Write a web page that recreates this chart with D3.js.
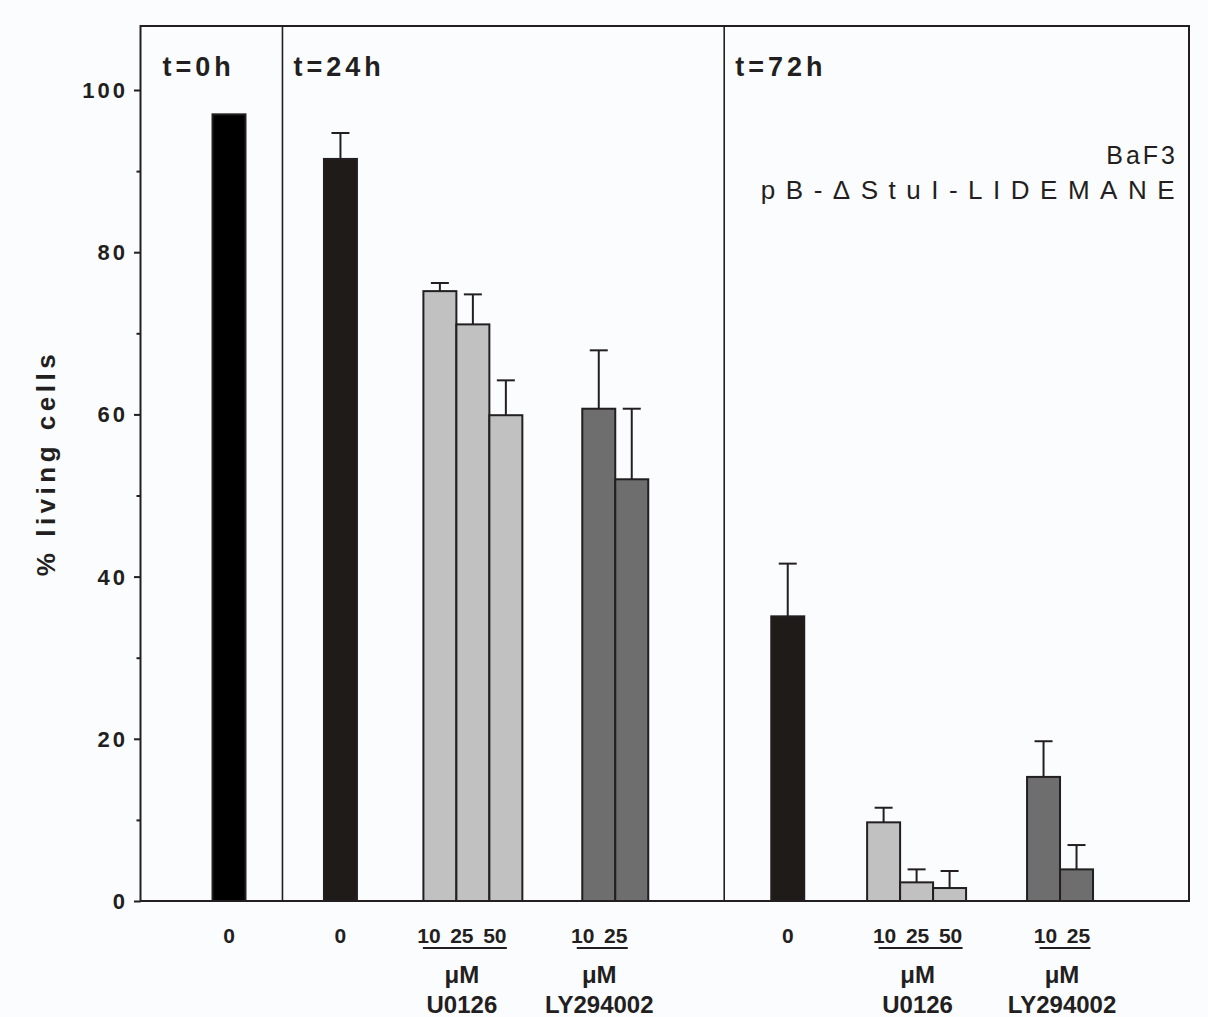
<!DOCTYPE html>
<html>
<head>
<meta charset="utf-8">
<script src="https://cdn.jsdelivr.net/npm/d3@7"></script>
<style>
  html, body { margin: 0; padding: 0; background: #fbfcfe; }
  svg { display: block; font-family: Arial, "Liberation Sans", sans-serif; }
</style>
</head>
<body>
<div id="chart"></div>
<script>
// ---- data ----
var timepoints = ["t=0h", "t=24h", "t=72h"];
var groupTime  = ["t=0h", "t=24h", "t=24h", "t=24h", "t=72h", "t=72h", "t=72h"];
var groupDrug  = ["control", "control", "U0126", "LY294002", "control", "U0126", "LY294002"];
var groupDoses = [["0"], ["0"], ["10", "25", "50"], ["10", "25"], ["0"], ["10", "25", "50"], ["10", "25"]];
var groupMeans = [[97.0], [91.5], [75.2, 71.1, 59.9], [60.7, 52.0], [35.1], [9.7, 2.3, 1.6], [15.3, 3.9]];
var groupErrs  = [[0], [3.2], [1.0, 3.7, 4.3], [7.2, 8.7], [6.5], [1.8, 1.6, 2.1], [4.4, 3.0]];
var yTicks = [0, 20, 40, 60, 80, 100];
var cellLine = ["BaF3", "pB-\u0394StuI-LIDEMANE"];
var yLabel = "% living cells";

// ---- layout ----
var width = 1208, height = 1017;
var mLeft = 140.5, mRight = 1189, mTop = 26, mBottom = 901;

// positions along the x axis, in percent of the axis length
var groupPos = [8.44, 19.07, 31.70, 45.28, 61.73, 74.02, 87.70];
var panelEdges = [13.54, 55.67];
var labelShift = [0, 0, -11, -16, 0, 1, 2];
var barUnits = 3.146;

var svg = d3.select("#chart").append("svg")
    .attr("width", width)
    .attr("height", height);

var x = d3.scaleLinear().domain([0, 100]).range([mLeft, mRight]);
var y = d3.scaleLinear().domain([0, 100]).range([mBottom, 90]);

var fill = d3.scaleOrdinal()
    .domain(["control", "U0126", "LY294002"])
    .range(["#1f1b18", "#c0c1c0", "#6e6e6e"]);

// flatten into bars
var bars = [];
groupMeans.forEach(function(vals, g) {
    vals.forEach(function(v, i) {
        var c = groupPos[g] + (i - (vals.length - 1) / 2) * barUnits;
        bars.push({g: g, i: i, value: v, err: groupErrs[g][i], dose: groupDoses[g][i],
                   drug: groupDrug[g], time: groupTime[g], center: c});
    });
});

// frame
svg.append("rect")
    .attr("x", mLeft).attr("y", mTop)
    .attr("width", mRight - mLeft).attr("height", mBottom - mTop)
    .attr("fill", "none").attr("stroke", "#231f20").attr("stroke-width", 2);

// panel separators
svg.selectAll("line.sep")
    .data(panelEdges)
    .join("line")
    .attr("class", "sep")
    .attr("x1", function(d) { return x(d); })
    .attr("x2", function(d) { return x(d); })
    .attr("y1", mTop).attr("y2", mBottom)
    .attr("stroke", "#231f20").attr("stroke-width", 1.6);

// panel titles
var panelStart = [0].concat(panelEdges);
svg.selectAll("text.panel")
    .data(timepoints)
    .join("text")
    .attr("class", "panel")
    .attr("x", function(d, i) { return x(panelStart[i]) + (i == 0 ? 22 : 11); })
    .attr("y", 76)
    .attr("font-size", 27)
    .attr("font-weight", "bold")
    .attr("letter-spacing", 4)
    .attr("fill", "#231f20")
    .text(function(d) { return d; });

// bars
svg.append("g").selectAll("rect")
    .data(bars)
    .join("rect")
    .attr("x", function(d) { return x(d.center - barUnits / 2); })
    .attr("width", x(barUnits) - x(0))
    .attr("y", function(d) { return y(d.value); })
    .attr("height", function(d) { return y(0) - y(d.value); })
    .attr("fill", function(d) { return d.g == 0 ? "#000" : fill(d.drug); })
    .attr("stroke", "#231f20")
    .attr("stroke-width", 2);

// error bars
var eb = svg.append("g").selectAll("g")
    .data(bars.filter(function(d) { return d.err > 0; }))
    .join("g")
    .attr("stroke", "#231f20")
    .attr("stroke-width", 2);
eb.append("line")
    .attr("x1", function(d) { return x(d.center); })
    .attr("x2", function(d) { return x(d.center); })
    .attr("y1", function(d) { return y(d.value); })
    .attr("y2", function(d) { return y(d.value + d.err); });
eb.append("line")
    .attr("x1", function(d) { return x(d.center) - 9; })
    .attr("x2", function(d) { return x(d.center) + 9; })
    .attr("y1", function(d) { return y(d.value + d.err); })
    .attr("y2", function(d) { return y(d.value + d.err); });

// y axis
var yAxis = svg.append("g")
    .attr("transform", "translate(" + mLeft + ",0)")
    .call(d3.axisLeft(y).tickValues(d3.range(0, 101, 10)).tickSize(6).tickFormat(""));
yAxis.select(".domain").remove();
yAxis.selectAll(".tick line")
    .attr("stroke", "#231f20").attr("stroke-width", 2)
    .attr("x2", function(d) { return d % 20 == 0 ? -6.5 : -4; });
svg.selectAll("text.ytick")
    .data(yTicks)
    .join("text")
    .attr("class", "ytick")
    .attr("x", 128)
    .attr("y", function(d) { return y(d) + 8; })
    .attr("text-anchor", "end")
    .attr("font-size", 22)
    .attr("font-weight", "bold")
    .attr("letter-spacing", 3)
    .attr("fill", "#231f20")
    .text(function(d) { return d; });

svg.append("text")
    .attr("transform", "translate(55," + 463 + ") rotate(-90)")
    .attr("text-anchor", "middle")
    .attr("font-size", 26)
    .attr("font-weight", "bold")
    .attr("letter-spacing", 4.5)
    .attr("fill", "#231f20")
    .text(yLabel);

// cell line label
svg.selectAll("text.cell")
    .data(cellLine)
    .join("text")
    .attr("class", "cell")
    .attr("x", function(d, i) { return i == 0 ? 1178 : 1185; })
    .attr("y", function(d, i) { return i == 0 ? 164 : 199; })
    .attr("text-anchor", "end")
    .attr("font-size", function(d, i) { return i == 0 ? 25 : 26; })
    .attr("letter-spacing", function(d, i) { return i == 0 ? 3 : 10.5; })
    .attr("fill", "#231f20")
    .text(function(d) { return d; });

// dose labels
svg.selectAll("text.dose")
    .data(bars)
    .join("text")
    .attr("class", "dose")
    .attr("x", function(d) { return x(d.center) + labelShift[d.g]; })
    .attr("y", 943)
    .attr("text-anchor", "middle")
    .attr("font-size", 21)
    .attr("font-weight", "bold")
    .attr("fill", "#231f20")
    .text(function(d) { return d.dose; });

// drug group labels with underline
var drugGroups = d3.range(groupDrug.length).filter(function(g) { return groupDrug[g] != "control"; });
drugGroups.forEach(function(g) {
    var n = groupDoses[g].length;
    var first = groupPos[g] - (n - 1) / 2 * barUnits;
    var last = groupPos[g] + (n - 1) / 2 * barUnits;
    var cx = x(groupPos[g]) + labelShift[g];
    svg.append("line")
        .attr("x1", x(first) + labelShift[g] - 6)
        .attr("x2", x(last) + labelShift[g] + 12)
        .attr("y1", 948).attr("y2", 948)
        .attr("stroke", "#231f20").attr("stroke-width", 2);
    svg.append("text")
        .attr("x", cx).attr("y", 983)
        .attr("text-anchor", "middle")
        .attr("font-size", 24).attr("font-weight", "bold")
        .attr("fill", "#231f20")
        .text("\u03bcM");
    svg.append("text")
        .attr("x", cx).attr("y", 1013)
        .attr("text-anchor", "middle")
        .attr("font-size", 24).attr("font-weight", "bold")
        .attr("fill", "#231f20")
        .text(groupDrug[g]);
});
</script>
</body>
</html>
